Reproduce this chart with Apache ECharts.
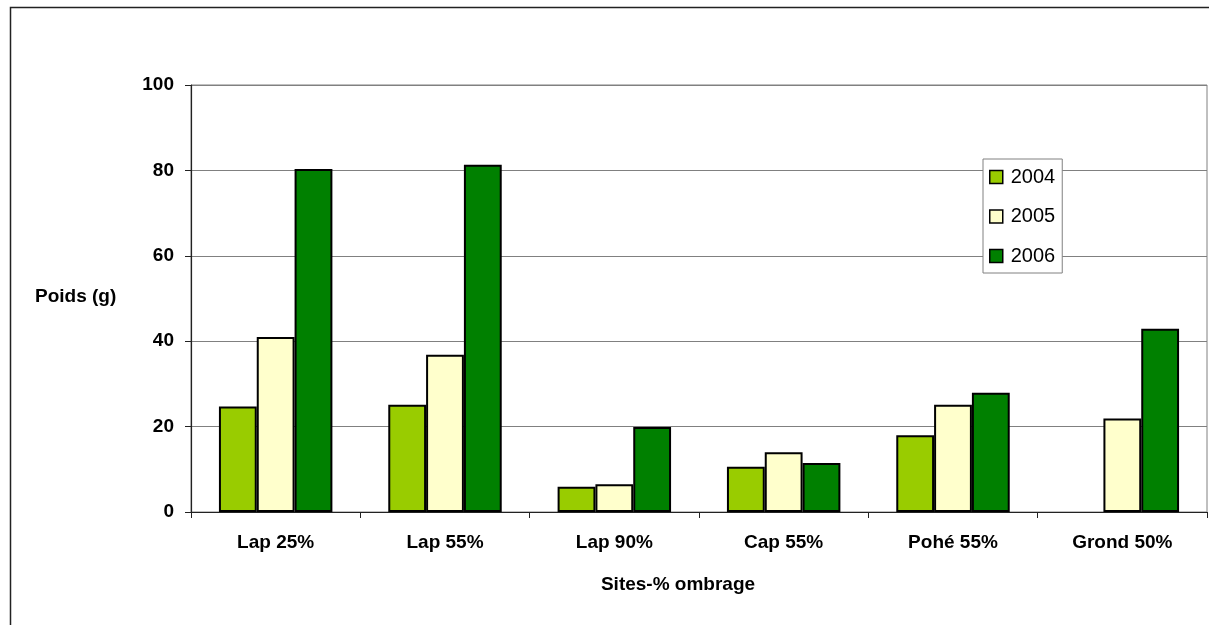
<!DOCTYPE html>
<html>
<head>
<meta charset="utf-8">
<script src="https://cdn.jsdelivr.net/npm/echarts@6/dist/echarts.min.js"></script>
<style>
  html, body { margin: 0; padding: 0; background: #fff; }
  #chart { width: 1209px; height: 625px; }
</style>
</head>
<body>
<div id="chart"></div>
<script>
// Sites (sites - % d'ombrage)
const categories = ['Lap 25%', 'Lap 55%', 'Lap 90%', 'Cap 55%', 'Pohé 55%', 'Grond 50%'];
// Poids moyen (g) par année
const years = ['2004', '2005', '2006'];
const values2004 = [24.7, 25.1, 5.9, 10.6, 18.0, null];
const values2005 = [41.0, 36.8, 6.5, 14.0, 25.1, 21.9];
const values2006 = [80.3, 81.3, 19.9, 11.5, 27.9, 42.9];
const yMin = 0, yMax = 100, yStep = 20;

const colors = ['#99CC00', '#FFFFCC', '#008000'];
const seriesValues = [values2004, values2005, values2006];
const FONT = '"Liberation Sans", Arial, sans-serif';

const chart = echarts.init(document.getElementById('chart'), null, { renderer: 'canvas' });

chart.setOption({
  backgroundColor: '#ffffff',
  animation: false,
  grid: {
    left: 191, top: 85, right: 2, bottom: 113,
    show: true, borderColor: '#808080', borderWidth: 1
  },
  legend: {
    orient: 'vertical',
    left: 983, top: 159,
    data: years,
    backgroundColor: '#ffffff',
    borderColor: '#808080', borderWidth: 1,
    padding: [8, 7, 7, 6],
    itemWidth: 13, itemHeight: 13, itemGap: 19.5,
    icon: 'rect',
    itemStyle: { borderColor: '#000', borderWidth: 1.5 },
    textStyle: { fontFamily: FONT, fontSize: 20, color: '#000', padding: [0, 0, 0, 3] }
  },
  xAxis: {
    type: 'category',
    data: categories,
    axisLine: { lineStyle: { color: '#222', width: 1.2 } },
    axisTick: { show: true, length: 6, lineStyle: { color: '#222' } },
    axisLabel: {
      margin: 21, fontFamily: FONT, fontSize: 19, fontWeight: 'bold', color: '#000'
    },
    splitLine: { show: false }
  },
  yAxis: {
    type: 'value',
    min: yMin, max: yMax, interval: yStep,
    axisLine: { show: true, lineStyle: { color: '#222', width: 1.2 } },
    axisTick: { show: true, length: 6, lineStyle: { color: '#222' } },
    axisLabel: {
      margin: 17, fontFamily: FONT, fontSize: 19, fontWeight: 'bold', color: '#000'
    },
    splitLine: { show: true, lineStyle: { color: '#808080', width: 1 } }
  },
  series: years.map((y, i) => ({
    name: y,
    type: 'bar',
    data: seriesValues[i],
    barGap: '0%',
    barCategoryGap: '33%',
    itemStyle: { color: colors[i], borderColor: '#000', borderWidth: 2 }
  })),
  graphic: [
    {
      type: 'rect',
      shape: { x: 10.5, y: 7.5, width: 1300, height: 800 },
      style: { fill: null, stroke: '#222', lineWidth: 1.5 },
      silent: true, z: -1
    },
    {
      type: 'text',
      left: 35, top: 287,
      style: { text: 'Poids (g)', font: 'bold 19px ' + FONT, fill: '#000' }
    },
    {
      type: 'text',
      x: 678, y: 585,
      style: {
        text: 'Sites-% ombrage', font: 'bold 19px ' + FONT, fill: '#000',
        align: 'center', verticalAlign: 'middle'
      }
    }
  ]
});
</script>
</body>
</html>
